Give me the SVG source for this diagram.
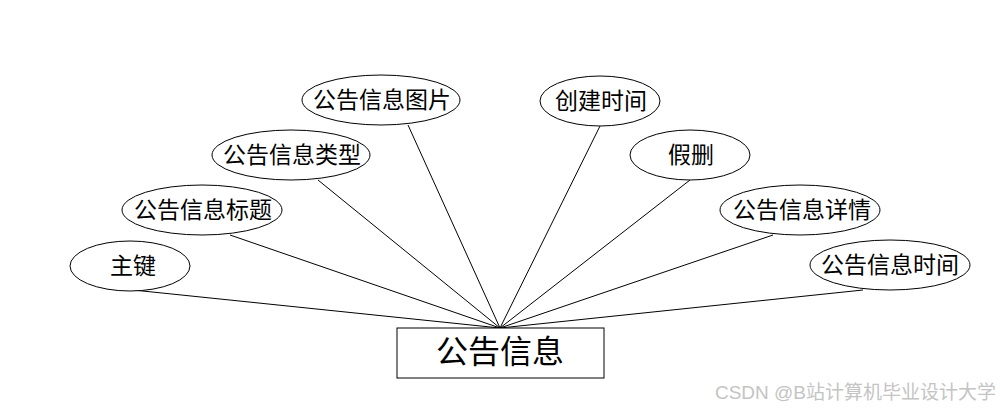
<svg xmlns="http://www.w3.org/2000/svg" width="1000" height="408" viewBox="0 0 1000 408">
<style>
.attr ellipse{fill:#fff;stroke:#000;stroke-width:1}
.attr text,.ent text{font-family:"Liberation Sans","Noto Sans CJK SC",sans-serif;fill:#000;text-anchor:middle}
.attr text{font-size:23px}
.ent text{font-size:32px}
.ent rect{fill:#fff;stroke:#000;stroke-width:1}
#edges line{stroke:#000;stroke-width:1}
.wm{font-family:"Liberation Sans","Noto Sans CJK SC",sans-serif;font-size:19px;fill:#c4c4c4}
</style>
<rect width="1000" height="408" fill="#fff"/>
<g id="edges">
<line x1="133" y1="290" x2="500" y2="328"/>
<line x1="230" y1="235" x2="500" y2="328"/>
<line x1="318" y1="180" x2="500" y2="328"/>
<line x1="408" y1="125" x2="500" y2="328"/>
<line x1="600" y1="126" x2="500" y2="328"/>
<line x1="690" y1="180" x2="500" y2="328"/>
<line x1="773" y1="235" x2="500" y2="328"/>
<line x1="863" y1="290" x2="500" y2="328"/>
</g>
<g id="n-zhujian" class="attr"><ellipse cx="130" cy="266" rx="60" ry="25"/><text x="133" y="274">主键</text></g>
<g id="n-biaoti" class="attr"><ellipse cx="202" cy="210" rx="80" ry="25"/><text x="203" y="218">公告信息标题</text></g>
<g id="n-leixing" class="attr"><ellipse cx="291" cy="155" rx="79" ry="25"/><text x="292" y="163">公告信息类型</text></g>
<g id="n-tupian" class="attr"><ellipse cx="381" cy="100" rx="79" ry="25"/><text x="382" y="108">公告信息图片</text></g>
<g id="n-chuangjian" class="attr"><ellipse cx="600" cy="101" rx="60" ry="25"/><text x="601" y="109">创建时间</text></g>
<g id="n-jiashan" class="attr"><ellipse cx="690" cy="155" rx="60" ry="25"/><text x="691" y="163">假删</text></g>
<g id="n-xiangqing" class="attr"><ellipse cx="800" cy="210" rx="80" ry="25"/><text x="802" y="218">公告信息详情</text></g>
<g id="n-shijian" class="attr"><ellipse cx="890" cy="265" rx="80" ry="25"/><text x="890" y="273">公告信息时间</text></g>
<g id="n-gonggao" class="ent"><rect x="397" y="328" width="207" height="50"/><text x="500" y="363">公告信息</text></g>
<text class="wm" x="996" y="399" text-anchor="end">CSDN @B站计算机毕业设计大学</text>
</svg>
